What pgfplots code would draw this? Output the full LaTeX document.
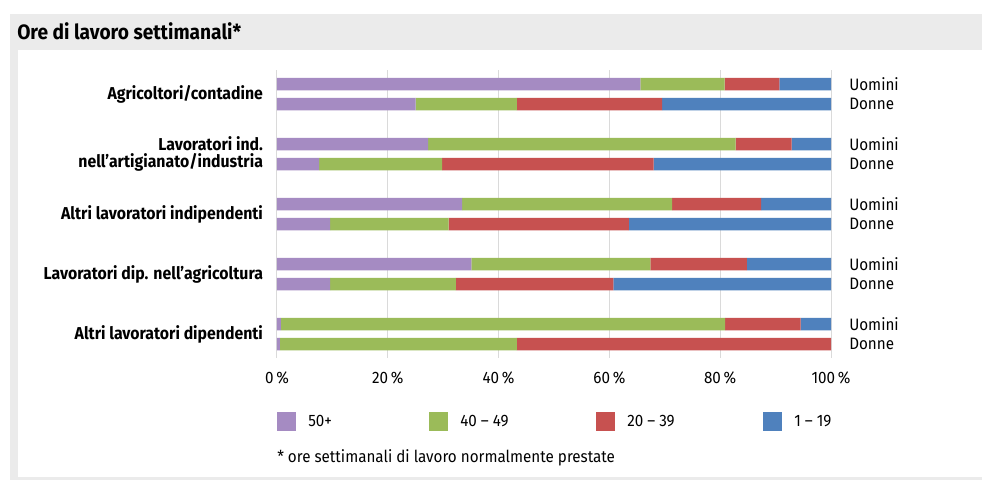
\documentclass[border=0pt]{standalone}
\usepackage{pgfplots}
\usepackage{pgfplotstable}
\pgfplotsset{compat=1.18}
\usepackage{fontspec}
\setmainfont{Fira Sans}[FakeStretch=0.92]
\definecolor{cP}{HTML}{A58BC2}
\definecolor{cG}{HTML}{9BBB59}
\definecolor{cR}{HTML}{C75150}
\definecolor{cB}{HTML}{4F81BD}
\definecolor{bgGray}{HTML}{EBEBEB}
\definecolor{gridGray}{HTML}{DADADA}
\pgfplotstableread{
y p50 p40 p20 p1
0 65.6 15.2 9.9 9.3
1 25.0 18.3 26.2 30.5
3 27.3 55.5 10.1 7.1
4 7.6 22.2 38.2 32.0
6 33.4 37.9 16.1 12.6
7 9.6 21.4 32.5 36.5
9 35.1 32.3 17.4 15.2
10 9.6 22.7 28.4 39.3
12 0.7 80.2 13.6 5.5
13 0.5 42.8 56.7 0.0
}\datatable
\pgfplotsset{sqlegend/.style={legend image code/.code={\fill[##1] (0pt,-7.125pt) rectangle (14.25pt,7.125pt);}}}
\newcommand{\regfont}{\fontsize{12.4}{14}\selectfont}
\begin{document}
\begin{tikzpicture}
\begin{scope}[x=0.75pt,y=-0.75pt]
\fill[white] (0,0) rectangle (982,480);
\fill[bgGray] (10,14) rectangle (982,480);
\fill[white] (18,50) rectangle (982,477);
\node[anchor=west, inner sep=0pt, font=\bfseries\fontsize{15.6}{17}\selectfont] at (17,31) {Ore di lavoro settimanali*};
\node[anchor=west, inner sep=0pt, font=\regfont] at (277,458) {* ore settimanali di lavoro normalmente prestate};
\end{scope}
\begin{axis}[
  at={(207.75pt,-268.5pt)}, anchor=south west,
  scale only axis, width=415.5pt, height=216pt,
  clip=false,
  xbar stacked, bar width=0.625,
  xmin=0, xmax=100, ymin=-0.7, ymax=13.7, y dir=reverse,
  axis line style={draw=none},
  tick style={draw=none},
  xtick={0,20,40,60,80,100},
  xmajorgrids, grid style={color=gridGray, line width=0.75pt},
  xticklabel={\pgfmathprintnumber{\tick}\,\%},
  /pgf/number format/assume math mode=true,
  xticklabel style={font=\regfont, yshift=-7pt},
  ytick={0.5,3.5,6.5,9.5,12.5},
  yticklabels={Agricoltori/contadine, {Lavoratori ind.\\nell’artigianato/industria}, Altri lavoratori indipendenti, Lavoratori dip. nell’agricoltura, Altri lavoratori dipendenti},
  yticklabel style={font=\bfseries\fontsize{12.9}{12.6}\selectfont, align=right, xshift=-7pt},
  legend columns=4,
  legend style={at={(0,-0.2205)}, anchor=west, draw=none, fill=none, inner sep=0pt,
    nodes={inner sep=0pt, font=\regfont},
    /tikz/every odd column/.style={column sep=9pt},
    /tikz/every even column/.style={column sep=0pt}},
]
\addplot[fill=cP, draw=none, sqlegend] table[x=p50, y=y] {\datatable};
\addplot[fill=cG, draw=none, sqlegend] table[x=p40, y=y] {\datatable};
\addplot[fill=cR, draw=none, sqlegend] table[x=p20, y=y] {\datatable};
\addplot[fill=cB, draw=none, sqlegend] table[x=p1, y=y] {\datatable};
\legend{\makebox[90.75pt][l]{50+}, \makebox[102pt][l]{40 – 49}, \makebox[102pt][l]{20 – 39}, 1 – 19}
\node[anchor=west, inner sep=0pt, xshift=13.5pt, font=\regfont] at (axis cs:100,0) {Uomini};
\node[anchor=west, inner sep=0pt, xshift=13.5pt, font=\regfont] at (axis cs:100,1) {Donne};
\node[anchor=west, inner sep=0pt, xshift=13.5pt, font=\regfont] at (axis cs:100,3) {Uomini};
\node[anchor=west, inner sep=0pt, xshift=13.5pt, font=\regfont] at (axis cs:100,4) {Donne};
\node[anchor=west, inner sep=0pt, xshift=13.5pt, font=\regfont] at (axis cs:100,6) {Uomini};
\node[anchor=west, inner sep=0pt, xshift=13.5pt, font=\regfont] at (axis cs:100,7) {Donne};
\node[anchor=west, inner sep=0pt, xshift=13.5pt, font=\regfont] at (axis cs:100,9) {Uomini};
\node[anchor=west, inner sep=0pt, xshift=13.5pt, font=\regfont] at (axis cs:100,10) {Donne};
\node[anchor=west, inner sep=0pt, xshift=13.5pt, font=\regfont] at (axis cs:100,12) {Uomini};
\node[anchor=west, inner sep=0pt, xshift=13.5pt, font=\regfont] at (axis cs:100,13) {Donne};
\end{axis}
\end{tikzpicture}
\end{document}
